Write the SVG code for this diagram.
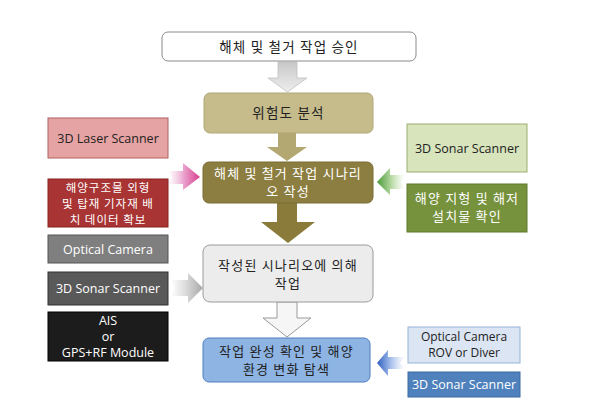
<svg xmlns="http://www.w3.org/2000/svg" width="592" height="409" viewBox="0 0 592 409">
<defs>
<linearGradient id="gTop" x1="0" y1="0" x2="0" y2="1"><stop offset="0" stop-color="#c8c8c8"/><stop offset="1" stop-color="#eeeeee"/></linearGradient>
<linearGradient id="gPink" x1="0" y1="0" x2="1" y2="0"><stop offset="0" stop-color="#f2c0dc" stop-opacity="0"/><stop offset="0.5" stop-color="#eaa0cc"/><stop offset="1" stop-color="#d8408f"/></linearGradient>
<linearGradient id="gGreen" x1="1" y1="0" x2="0" y2="0"><stop offset="0" stop-color="#d0e8c0" stop-opacity="0"/><stop offset="0.5" stop-color="#b4d8a0"/><stop offset="1" stop-color="#4a9a38"/></linearGradient>
<linearGradient id="gGray" x1="0" y1="0" x2="1" y2="0"><stop offset="0" stop-color="#e0e0e0" stop-opacity="0"/><stop offset="0.5" stop-color="#d8d8d8"/><stop offset="1" stop-color="#a8a8a8"/></linearGradient>
<linearGradient id="gBlue" x1="1" y1="0" x2="0" y2="0"><stop offset="0" stop-color="#c8d8f4" stop-opacity="0"/><stop offset="0.5" stop-color="#a8c0ec"/><stop offset="1" stop-color="#2f5fc0"/></linearGradient>
<style>
.ko{font-family:"Noto Sans CJK KR","Noto Sans",sans-serif;font-size:13px;text-anchor:middle;letter-spacing:1.2px}
.sm{font-size:11.5px;letter-spacing:1px}
.en{font-family:"Open Sans","Noto Sans",sans-serif;font-size:12.5px;text-anchor:middle}
.w{fill:#ffffff}
.k{fill:#222222}
</style>
</defs>

<g id="connectors">
<polygon points="278,62 297,62 297,78 307,78 287.5,92 268,78 278,78" fill="url(#gTop)" stroke="#c0c0c0" stroke-width="0.8"/>
<polygon points="278,133 296,133 296,147 307,147 287,161 267,147 278,147" fill="#b3a872"/>
<polygon points="277,203 297,203 297,222 315,222 288,243 261,222 277,222" fill="#8a7b3a"/>
<polygon points="277,302 297,302 297,318 311,318 287,337 263,318 277,318" fill="#f6f6f6" stroke="#9a9a9a" stroke-width="1"/>
<polygon points="168,171 183,171 183,163 200,177 183,190 183,184 168,184 172,177.5" fill="url(#gPink)"/>
<polygon points="405,175 390,175 390,168 377,182 390,195 390,189 405,189 401,182" fill="url(#gGreen)"/>
<polygon points="170,280 188,280 188,273 203,288 188,303 188,296 170,296 175,288" fill="url(#gGray)"/>
<polygon points="405,357 388,357 388,350 377,363 388,376 388,369 405,369 400,363" fill="url(#gBlue)"/>
</g>

<g id="approval">
<rect x="162" y="32" width="254" height="29" rx="6" fill="#ffffff" stroke="#8a8a8a" stroke-width="1"/>
<text class="ko k" x="289" y="51.5" style="font-size:13.5px">해체 및 철거 작업 승인</text>
</g>

<g id="risk">
<rect x="204" y="93" width="169" height="40" rx="6" fill="#c5bb8b" stroke="#b0a676" stroke-width="1"/>
<text class="ko k" x="288.5" y="118" style="font-size:13.5px">위험도 분석</text>
</g>

<g id="scenario">
<rect x="203" y="162" width="170" height="41" rx="6" fill="#8c7e40" stroke="#7a6d34" stroke-width="1"/>
<text class="ko w" x="288" y="178">해체 및 철거 작업 시나리</text>
<text class="ko w" x="288" y="196">오 작성</text>
</g>

<g id="work">
<rect x="203" y="245" width="170" height="57" rx="7" fill="#ececec" stroke="#9a9a9a" stroke-width="1"/>
<text class="ko k" x="288" y="270">작성된 시나리오에 의해</text>
<text class="ko k" x="288" y="288">작업</text>
</g>

<g id="final">
<rect x="203" y="338" width="167" height="44" rx="6" fill="#8db4e2" stroke="#4f7fbf" stroke-width="1"/>
<text class="ko k" x="286.5" y="356">작업 완성 확인 및 해양</text>
<text class="ko k" x="286.5" y="374">환경 변화 탐색</text>
</g>

<g id="laser">
<rect x="48" y="118" width="120" height="40" fill="#e6a3a3" stroke="#b06060" stroke-width="1"/>
<text class="en k" x="108" y="142.5">3D Laser Scanner</text>
</g>

<g id="structure-data">
<rect x="48" y="179" width="120" height="48" fill="#a83434" stroke="#8a2020" stroke-width="1"/>
<text class="ko sm w" x="108" y="192">해양구조물 외형</text>
<text class="ko sm w" x="108" y="208">및 탑재 기자재 배</text>
<text class="ko sm w" x="108" y="224">치 데이터 확보</text>
</g>

<g id="optical-left">
<rect x="48" y="235" width="120" height="28" fill="#7f7f7f" stroke="#555555" stroke-width="1"/>
<text class="en w" x="108" y="253.5">Optical Camera</text>
</g>

<g id="sonar-left">
<rect x="48" y="272" width="120" height="33" fill="#595959" stroke="#333333" stroke-width="1"/>
<text class="en w" x="108" y="293">3D Sonar Scanner</text>
</g>

<g id="ais">
<rect x="48" y="312" width="120" height="49" fill="#1c1c1c" stroke="#000000" stroke-width="1"/>
<text class="en w" x="108" y="325">AIS</text>
<text class="en w" x="108" y="341">or</text>
<text class="en w" x="108" y="357">GPS+RF Module</text>
</g>

<g id="sonar-green">
<rect x="407" y="124" width="120" height="48" fill="#d7e4bc" stroke="#9bb070" stroke-width="1"/>
<text class="en k" x="467" y="152.5">3D Sonar Scanner</text>
</g>

<g id="seabed">
<rect x="407" y="184" width="120" height="48" fill="#76923c" stroke="#5f7a2c" stroke-width="1"/>
<text class="ko w" x="467" y="203">해양 지형 및 해저</text>
<text class="ko w" x="467" y="221">설치물 확인</text>
</g>

<g id="optical-rov">
<rect x="408" y="327" width="112" height="36" fill="#dbe5f3" stroke="#95b3d7" stroke-width="1"/>
<text class="en k" x="464" y="341" style="font-size:12px">Optical Camera</text>
<text class="en k" x="464" y="357" style="font-size:12px">ROV or Diver</text>
</g>

<g id="sonar-blue">
<rect x="408" y="372" width="112" height="25" fill="#4f81bd" stroke="#3a6aa6" stroke-width="1"/>
<text class="en w" x="464" y="389">3D Sonar Scanner</text>
</g>
</svg>
